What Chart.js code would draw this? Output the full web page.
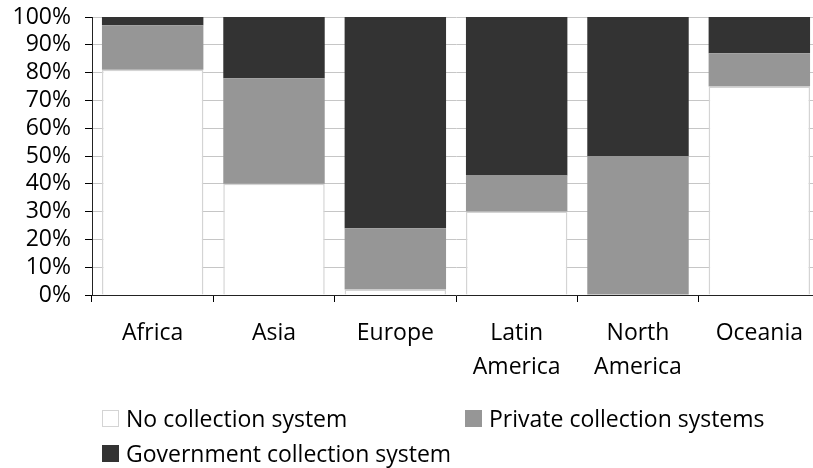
<!DOCTYPE html>
<html><head><meta charset="utf-8">
<script src="https://cdn.jsdelivr.net/npm/chart.js@4"></script>
<style>
html,body{margin:0;padding:0;background:#fff;overflow:hidden;width:813px;height:468px;}
#wrap{position:relative;width:820px;height:468px;}
#legend{position:absolute;left:0;top:0;width:820px;height:468px;font-family:'Open Sans',sans-serif;font-size:23px;color:#000;pointer-events:none;}
.item{position:absolute;display:flex;align-items:center;white-space:nowrap;height:30px;line-height:30px;}
.box{width:17px;height:17px;box-sizing:border-box;margin-right:7px;}
</style></head><body>
<div id="wrap"><canvas id="c" width="820" height="468"></canvas><div id="legend"></div></div>
<script>
const categories = [['Africa'], ['Asia'], ['Europe'], ['Latin', 'America'], ['North', 'America'], ['Oceania']];
const noCollection = [81, 40, 2, 30, 0, 75];
const privateCollection = [16, 38, 22, 13, 50, 12];
const governmentCollection = [3, 22, 76, 57, 50, 13];
const yTickValues = [0, 10, 20, 30, 40, 50, 60, 70, 80, 90, 100];
const seriesLabels = ['No collection system', 'Private collection systems', 'Government collection system'];
const seriesColors = ['#ffffff', '#969696', '#333333'];
const seriesBorders = ['#d4d4d4', '#969696', '#333333'];

const font = {family: 'Open Sans', size: 23, lineHeight: 1.45};
const seriesValues = [noCollection, privateCollection, governmentCollection];

const chart = new Chart(document.getElementById('c'), {
  type: 'bar',
  data: {
    labels: categories,
    datasets: seriesValues.map((vals, i) => ({
      label: seriesLabels[i],
      data: vals,
      backgroundColor: seriesColors[i],
      borderColor: seriesBorders[i],
      borderWidth: i === 0 ? 1.5 : 0,
      categoryPercentage: 1,
      barPercentage: 0.836
    }))
  },
  options: {
    responsive: false,
    animation: false,
    devicePixelRatio: 1,
    layout: {padding: {top: 17, left: 0, right: 0, bottom: 0}},
    plugins: {legend: {display: false}, tooltip: {enabled: false}},
    scales: {
      x: {
        stacked: true,
        grid: {drawOnChartArea: false, color: '#000', tickColor: '#000', tickLength: 7, offset: true},
        border: {color: '#222', width: 1},
        ticks: {font: font, color: '#000', padding: 15, maxRotation: 0, autoSkip: false},
        afterFit: s => { s.height = 173; s.paddingLeft = 0; s.paddingRight = 0; }
      },
      y: {
        stacked: true,
        min: 0, max: 100,
        afterBuildTicks: s => { s.ticks = yTickValues.map(v => ({value: v})); },
        grid: {color: '#c6c6c6', tickColor: '#000', tickLength: 7, lineWidth: 1},
        border: {color: '#222', width: 1},
        ticks: {font: {family: 'Open Sans', size: 23}, color: '#000', padding: 14, autoSkip: false, callback: v => v + '%'},
        afterFit: s => { s.width = 92; s.paddingTop = 0; s.paddingBottom = 0; }
      }
    }
  }
});

// legend built from the dataset labels/colours
const legendPos = [[102, 418], [465, 418], [102, 453]];
const lg = document.getElementById('legend');
chart.data.datasets.forEach((ds, i) => {
  const it = document.createElement('div');
  it.className = 'item';
  it.style.left = legendPos[i][0] + 'px';
  it.style.top = (legendPos[i][1] - 15) + 'px';
  const b = document.createElement('span');
  b.className = 'box';
  b.style.background = ds.backgroundColor;
  b.style.border = i === 0 ? '1px solid #d4d4d4' : 'none';
  const t = document.createElement('span');
  t.textContent = ds.label;
  it.appendChild(b); it.appendChild(t);
  lg.appendChild(it);
});
</script>
</body></html>
